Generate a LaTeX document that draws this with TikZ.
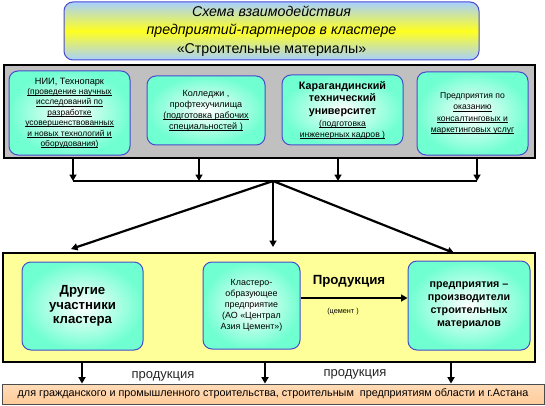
\documentclass[tikz,border=0pt]{standalone}
\usepackage{fontspec}
\setmainfont{Liberation Sans}
\usetikzlibrary{arrows.meta}
\definecolor{aqua}{HTML}{70FFD0}
\definecolor{bord}{HTML}{4A4ACC}
\definecolor{grayfill}{HTML}{C0C0C0}
\definecolor{yel}{HTML}{FFFF99}
\definecolor{orng}{HTML}{FFCC99}
\definecolor{tblue}{HTML}{A8D0FF}
\definecolor{tyel}{HTML}{FFFF20}
\tikzset{
  ibox/.style={draw=bord, line width=1pt, rounded corners=9pt, inner sep=1pt,
    inner color=white, outer color=aqua, align=center},
  frame/.style={draw=black, line width=2.2pt},
  arr/.style={draw=black, line width=2.2pt, -{Triangle[length=6.5pt,width=7pt]}},
  bar/.style={draw=black, line width=2.4pt},
  sm/.style={font=\fontsize{8.4}{10.4}\selectfont},
}
\newcommand{\ul}[1]{{\setbox0\hbox{#1}\rlap{\rule[-1.3pt]{\wd0}{0.55pt}}\box0}}
\newcommand{\kb}[1]{{\fontsize{10.8}{13}\selectfont\bfseries #1}}
\newcommand{\nii}[1]{{\fontsize{9.2}{11}\selectfont #1}}
\begin{document}
\begin{tikzpicture}[x=1pt,y=-1pt]
\useasboundingbox (0,0) rectangle (545,406);
% title
\node[draw=bord, line width=1pt, rounded corners=9pt, minimum width=415pt, minimum height=58pt,
  top color=tblue, bottom color=tblue, middle color=tyel, align=center,
  font=\fontsize{14.2}{18.5}\selectfont] (title) at (271.5,31)
  {\textit{Схема взаимодействия}\\ \textit{предприятий-партнеров в кластере}\\ «Строительные материалы»};
% gray box
\node[frame, fill=grayfill, minimum width=531pt, minimum height=93pt] (gray) at (269.5,111.5) {};
\node[ibox, minimum width=121pt, minimum height=84pt, sm] (b1) at (69.5,113)
  {\nii{НИИ, Технопарк}\\ \ul{(проведение научных}\\ \ul{исследований по}\\ \ul{разработке}\\ \ul{усовершенствованных}\\ \ul{и новых технологий и}\\ \ul{оборудования)}};
\node[ibox, minimum width=118pt, minimum height=69pt, font=\fontsize{9}{11}\selectfont] (b2) at (206,110.5)
  {Колледжи ,\\ профтехучилища\\ \ul{(подготовка рабочих}\\ \ul{специальностей )}};
\node[ibox, minimum width=121pt, minimum height=70pt, font=\fontsize{8.6}{11}\selectfont] (b3) at (342.5,110)
  {\kb{Карагандинский}\\[1.5pt] \kb{технический}\\[1.5pt] \kb{университет}\\[1pt] \ul{(подготовка}\\ \ul{инженерных кадров )}};
\node[ibox, minimum width=111pt, minimum height=83pt, font=\fontsize{8.6}{11.3}\selectfont] (b4) at (472.5,113.5)
  {Предприятия по\\ \ul{оказанию}\\ \ul{консалтинговых и}\\ \ul{маркетинговых услуг}};
% collector bar
\coordinate (a1) at (73,181);
\coordinate (a2) at (199,181);
\coordinate (a3) at (338,181);
\coordinate (a4) at (477,181);
\coordinate (ac) at (273,181);
\draw[arr] (gray.south -| a1) -- (a1);
\draw[arr] (gray.south -| a2) -- (a2);
\draw[arr] (gray.south -| a3) -- (a3);
\draw[arr] (gray.south -| a4) -- (a4);
\draw[bar] (a1) -- (a4);
% yellow box
\node[frame, fill=yel, minimum width=532pt, minimum height=109pt] (yellow) at (269,307.5) {};
\coordinate (t1) at (71,249);
\coordinate (t2) at (273,247);
\coordinate (t3) at (454,253);
\draw[arr] (ac) -- (t1);
\draw[arr] (ac) -- (t2);
\draw[arr] (ac) -- (t3);
\node[ibox, minimum width=121pt, minimum height=88pt, font=\fontsize{13.2}{14.5}\selectfont\bfseries] (L1) at (82.5,306)
  {Другие\\ участники\\ кластера};
\node[ibox, minimum width=97pt, minimum height=87pt, font=\fontsize{8.9}{11}\selectfont] (L2) at (251.5,305.5)
  {Кластеро-\\ образующее\\ предприятие\\ (АО «Централ\\ Азия Цемент»)};
\node[ibox, minimum width=122pt, minimum height=89pt, font=\fontsize{10.7}{13}\selectfont\bfseries] (L3) at (469,305.5)
  {предприятия –\\ производители\\ строительных\\ материалов};
\coordinate (py) at (0,298);
\draw[arr] (L2.east |- py) -- (L3.west |- py);
\node[font=\fontsize{13.3}{15}\selectfont\bfseries] (prod) at (349,281) {Продукция};
\node[font=\fontsize{7.3}{9}\selectfont] (cem) at (343,312) {(цемент )};
% bottom
\node[draw=black!70, line width=0.8pt, top color=orng!70, bottom color=orng, minimum width=542pt, minimum height=20pt,
  font=\fontsize{10.8}{12}\selectfont] (orange) at (273,394)
  {для гражданского и промышленного строительства, строительным\ \ предприятиям области и г.Астана};
\coordinate (c1) at (82,0);
\coordinate (c2) at (265,0);
\coordinate (c3) at (451,0);
\draw[arr] (yellow.south -| c1) -- (orange.north -| c1);
\draw[arr] (yellow.south -| c2) -- (orange.north -| c2);
\draw[arr] (yellow.south -| c3) -- (orange.north -| c3);
\node[font=\fontsize{13}{14}\selectfont, text=black!85] (p1) at (163,376) {продукция};
\node[font=\fontsize{13}{14}\selectfont, text=black!85] (p2) at (355,374) {продукция};
\end{tikzpicture}
\end{document}
